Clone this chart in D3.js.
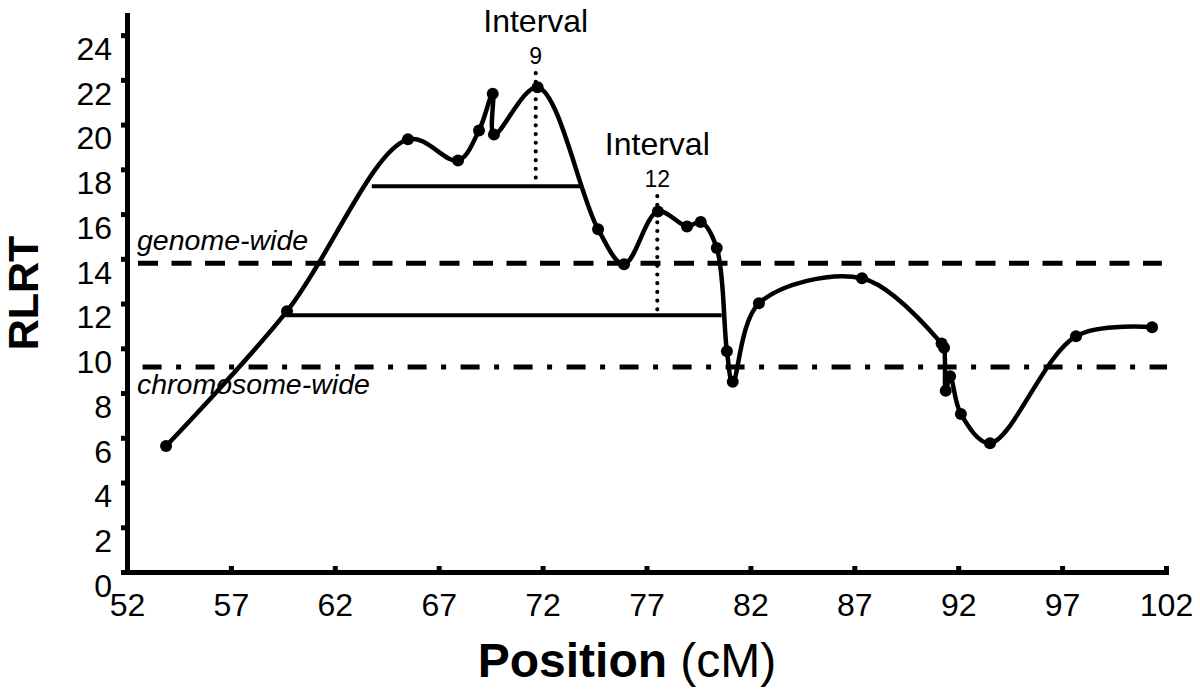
<!DOCTYPE html>
<html>
<head>
<meta charset="utf-8">
<script src="https://cdn.jsdelivr.net/npm/d3@7/dist/d3.min.js"></script>
<style>
  body { margin: 0; background: #fff; }
  svg { display: block; font-family: "Liberation Sans", Arial, sans-serif; }
</style>
</head>
<body>
<div id="chart"></div>
<script>
"use strict";

// Data
const positions = [53.88, 59.70, 65.52, 67.93, 68.94, 69.60, 69.66, 71.76, 74.67, 75.92,
    77.55, 78.95, 79.61, 80.38, 80.87, 81.15, 82.41, 87.37, 91.20, 91.32,
    91.40, 91.61, 92.13, 93.53, 97.67, 101.33];
const rlrt = [5.63, 11.66, 19.34, 18.40, 19.74, 21.38, 19.56, 21.67, 15.32, 13.76,
    16.12, 15.45, 15.65, 14.48, 9.87, 8.50, 12.01, 13.13, 10.21, 10.03,
    8.10, 8.75, 7.06, 5.76, 10.54, 10.94];

const xTicks = [52, 57, 62, 67, 72, 77, 82, 87, 92, 97, 102];
const yTicks = [0, 2, 4, 6, 8, 10, 12, 14, 16, 18, 20, 22, 24];

// significance thresholds
const thresholdNames = ["genome-wide", "chromosome-wide"];
const thresholdValues = [13.8, 9.16];
const thresholdFrom = [52.53, 52.75];
const thresholdTo = [101.8, 102.05];

// support intervals (peak position, horizontal line level and span, label)
const intervalNames = ["9", "12"];
const intervalPeaks = [71.67, 77.52];
const intervalTops = [22.3, 16.8];
const intervalLevels = [17.25, 11.48];
const intervalFrom = [63.78, 59.70];
const intervalTo = [73.80, 80.62];

const width = 1200, height = 692;

const svg = d3.select("#chart").append("svg")
    .attr("width", width)
    .attr("height", height);

const x = d3.scaleLinear().domain([52, 102]).range([127, 1166]);
const y = d3.scaleLinear().domain([0, 24.9]).range([572, 15]);

// threshold lines
const dashes = ["20 13.5", "19 14.5 5 14.5"];
svg.selectAll(".threshold")
    .data(thresholdValues)
    .join("line")
    .attr("class", "threshold")
    .attr("x1", (d, i) => x(thresholdFrom[i]))
    .attr("x2", (d, i) => x(thresholdTo[i]))
    .attr("y1", d => y(d))
    .attr("y2", d => y(d))
    .attr("stroke", "#000")
    .attr("stroke-width", 5)
    .attr("stroke-dasharray", (d, i) => dashes[i]);

svg.selectAll(".threshold-label")
    .data(thresholdNames)
    .join("text")
    .attr("class", "threshold-label")
    .attr("x", 137)
    .attr("y", (d, i) => i === 0 ? y(thresholdValues[i]) - 13 : y(thresholdValues[i]) + 27)
    .attr("font-size", 28.5)
    .attr("font-style", "italic")
    .text(d => d);

// interval lines
svg.selectAll(".interval")
    .data(intervalLevels)
    .join("line")
    .attr("class", "interval")
    .attr("x1", (d, i) => x(intervalFrom[i]))
    .attr("x2", (d, i) => x(intervalTo[i]))
    .attr("y1", d => y(d))
    .attr("y2", d => y(d))
    .attr("stroke", "#000")
    .attr("stroke-width", 4);

svg.selectAll(".interval-peak")
    .data(intervalPeaks)
    .join("line")
    .attr("class", "interval-peak")
    .attr("x1", d => x(d))
    .attr("x2", d => x(d))
    .attr("y1", (d, i) => y(intervalTops[i]))
    .attr("y2", (d, i) => y(intervalLevels[i]) - 4)
    .attr("stroke", "#000")
    .attr("stroke-width", 4.2)
    .attr("stroke-linecap", "round")
    .attr("stroke-dasharray", "0 8.7");

const labels = svg.selectAll(".interval-label")
    .data(intervalNames)
    .join("g")
    .attr("class", "interval-label")
    .attr("text-anchor", "middle")
    .attr("transform", (d, i) => `translate(${x(intervalPeaks[i])},${y(intervalTops[i])})`);

labels.append("text")
    .attr("y", -9)
    .attr("font-size", 23)
    .text(d => d);

labels.append("text")
    .attr("y", -41)
    .attr("font-size", 32)
    .text("Interval");

// RLRT curve
const pts = positions.map((p, i) => [p, rlrt[i]]);
const line = d3.line()
    .x(d => x(d[0]))
    .y(d => y(d[1]))
    .curve(d3.curveCatmullRom.alpha(0.5));

svg.append("path")
    .datum(pts)
    .attr("d", line)
    .attr("fill", "none")
    .attr("stroke", "#000")
    .attr("stroke-width", 4.5)
    .attr("stroke-linejoin", "round");

svg.selectAll(".marker")
    .data(pts)
    .join("circle")
    .attr("class", "marker")
    .attr("cx", d => x(d[0]))
    .attr("cy", d => y(d[1]))
    .attr("r", 6)
    .attr("fill", "#000");

// axes
const yAxis = svg.append("g")
    .attr("transform", `translate(${x(52)},0)`)
    .call(d3.axisLeft(y).tickValues(yTicks).tickSize(6).tickSizeOuter(0).tickPadding(9));

const xAxis = svg.append("g")
    .attr("transform", `translate(0,${y(0)})`)
    .call(d3.axisBottom(x).tickValues(xTicks).tickSize(-6).tickSizeOuter(0).tickPadding(21));

[yAxis, xAxis].forEach(g => {
    g.attr("font-family", null).attr("font-size", 32);
    g.select(".domain").attr("stroke-width", 5).attr("stroke-linecap", "square");
    g.selectAll(".tick line").attr("stroke-width", 5);
    g.selectAll(".tick text").attr("fill", "#000");
});
yAxis.selectAll(".tick text").attr("y", 14);

// axis titles
svg.append("text")
    .attr("transform", "translate(38,293) rotate(-90)")
    .attr("text-anchor", "middle")
    .attr("font-size", 43)
    .attr("font-weight", "bold")
    .text("RLRT");

const xTitle = svg.append("text")
    .attr("x", 627)
    .attr("y", 677)
    .attr("text-anchor", "middle")
    .attr("font-size", 48);

xTitle.append("tspan").attr("font-weight", "bold").text("Position");
xTitle.append("tspan").text(" (cM)");
</script>
</body>
</html>
